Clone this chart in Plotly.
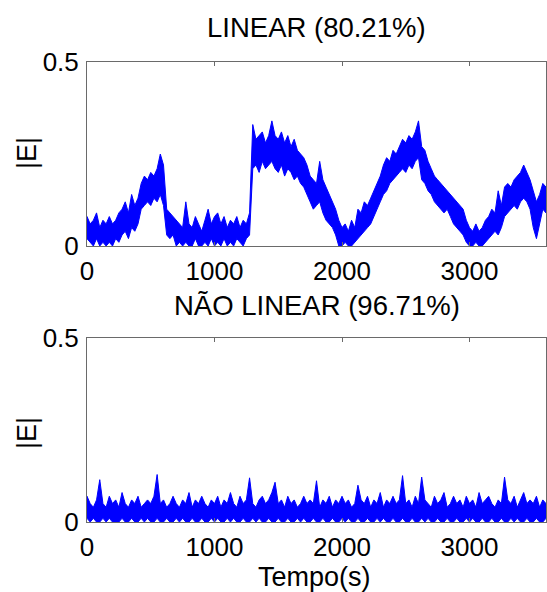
import plotly.graph_objects as go

# sample times (s), one low/high pair read per 25 s
step = 25
times = list(range(0, 3601, step))

# LINEAR |E| band: lower and upper envelope
lin_low = [
    .02, .01, .00, .02, .00, .01, .00, .01, .00, .02,   # 0-225
    .01, .03, .04, .02, .05, .04, .06, .10, .11, .12,   # 250-475
    .11, .13, .12, .14, .11, .03, .02, .03, .00, .01,   # 500-725
    .00, .01, .00, .00, .02, .00, .00, .01, .00, .02,   # 750-975
    .00, .01, .00, .02, .00, .01, .00, .02, .01, .00,   # 1000-1225
    .02, .03, .21, .22, .20, .23, .21, .22, .23, .21,   # 1250-1475
    .20, .22, .19, .21, .20, .18, .19, .17, .16, .14,   # 1500-1725
    .12, .10, .11, .12, .09, .07, .06, .05, .03, .00,   # 1750-1975
    .00, .01, .00, .00, .01, .02, .03, .04, .05, .06,   # 2000-2225
    .08, .10, .12, .14, .15, .17, .18, .19, .20, .21,   # 2250-2475
    .20, .22, .21, .23, .24, .18, .17, .15, .14, .12,   # 2500-2725
    .11, .10, .09, .10, .08, .06, .05, .04, .03, .01,   # 2750-2975
    .00, .00, .01, .00, .00, .01, .02, .03, .04, .03,   # 3000-3225
    .05, .08, .09, .10, .11, .10, .12, .13, .12, .10,   # 3250-3475
    .05, .02, .06, .10, .09,                            # 3500-3600
]
lin_high = [
    .08, .06, .07, .09, .05, .07, .06, .08, .06, .07,
    .09, .10, .12, .09, .14, .11, .13, .17, .19, .18,
    .20, .19, .21, .25, .22, .10, .09, .08, .07, .06,
    .05, .12, .06, .05, .08, .06, .04, .07, .10, .06,
    .08, .09, .06, .08, .05, .07, .06, .08, .05, .07,
    .06, .09, .33, .29, .30, .31, .28, .30, .34, .30,
    .29, .31, .28, .30, .27, .29, .26, .25, .24, .22,
    .19, .18, .17, .23, .18, .16, .14, .12, .10, .07,
    .05, .06, .04, .07, .05, .10, .09, .12, .11, .13,
    .15, .17, .19, .22, .24, .23, .26, .25, .27, .29,
    .28, .30, .29, .31, .34, .27, .26, .23, .21, .19,
    .18, .17, .16, .15, .14, .13, .12, .11, .10, .07,
    .05, .04, .06, .04, .05, .07, .08, .10, .09, .15,
    .11, .16, .17, .16, .18, .19, .20, .22, .20, .18,
    .15, .12, .14, .17, .16,
]

# NÃO LINEAR |E| band
nl_low = [
    .01, .00, .01, .00, .00, .01, .00, .01, .00, .00,
    .00, .01, .00, .00, .01, .00, .00, .01, .00, .01,
    .00, .00, .01, .00, .00, .01, .00, .00, .01, .00,
    .01, .00, .00, .01, .00, .00, .01, .00, .00, .01,
    .00, .01, .00, .00, .01, .00, .01, .00, .00, .01,
    .00, .00, .01, .00, .01, .00, .00, .01, .00, .00,
    .01, .00, .00, .01, .00, .00, .01, .00, .01, .00,
    .00, .01, .00, .00, .01, .00, .00, .01, .00, .00,
    .01, .00, .01, .00, .00, .01, .00, .00, .01, .00,
    .00, .01, .00, .01, .00, .00, .01, .00, .00, .01,
    .00, .00, .01, .00, .00, .01, .00, .01, .00, .00,
    .01, .00, .00, .01, .00, .00, .01, .00, .00, .01,
    .00, .01, .00, .00, .01, .00, .00, .01, .00, .00,
    .01, .00, .00, .01, .00, .01, .00, .00, .01, .00,
    .00, .01, .00, .00, .01,
]
nl_high = [
    .07, .05, .04, .06, .115, .05, .04, .07, .05, .06,
    .04, .08, .05, .04, .06, .05, .07, .04, .05, .06,
    .05, .07, .129, .05, .06, .04, .05, .07, .05, .04,
    .06, .05, .08, .04, .06, .05, .07, .05, .04, .06,
    .05, .07, .04, .06, .05, .08, .05, .04, .07, .05,
    .06, .12, .05, .04, .06, .07, .05, .06, .08, .108,
    .05, .06, .04, .07, .05, .06, .04, .05, .07, .05,
    .06, .05, .112, .04, .06, .05, .07, .04, .06, .05,
    .07, .05, .06, .04, .05, .10, .06, .05, .07, .04,
    .06, .05, .08, .04, .06, .05, .07, .05, .06, .126,
    .05, .06, .04, .07, .05, .122, .06, .05, .04, .07,
    .05, .06, .08, .04, .05, .07, .05, .06, .04, .07,
    .05, .06, .04, .08, .05, .06, .07, .05, .04, .06,
    .05, .122, .06, .05, .07, .04, .06, .08, .05, .06,
    .05, .07, .04, .06, .05,
]

titles = ["LINEAR (80.21%)", "NÃO LINEAR (96.71%)"]
ylabel = "|E|"
xlabel = "Tempo(s)"
xticks = [0, 1000, 2000, 3000]
yticks = [0, 0.5]
ytick_text = ["0", "0.5"]


def band(t, lo, hi):
    # closed polygon: upper envelope left->right, lower envelope right->left
    xs = list(t) + list(t)[::-1] + [t[0]]
    ys = list(hi) + list(lo)[::-1] + [hi[0]]
    return xs, ys


W, H = 547, 592
L, R, T, B = 87, 1, 62, 70
pw = W - L - R
ph = H - T - B


def px(x):
    return (x - L) / pw


def py(y):
    return (H - B - y) / ph


FONT = "Liberation Sans, Arial, Helvetica, sans-serif"
BLUE = "#0000FF"

fig = go.Figure()
for (lo, hi), (xa, ya) in (((lin_low, lin_high), ("x", "y")), ((nl_low, nl_high), ("x2", "y2"))):
    bx, by = band(times, lo, hi)
    fig.add_trace(go.Scatter(x=bx, y=by, mode="lines", fill="toself", fillcolor=BLUE,
                             line=dict(color=BLUE, width=1), xaxis=xa, yaxis=ya,
                             showlegend=False, hoverinfo="skip"))

axcol = "#6a6a6a"
xcommon = dict(range=[0, 3600], tickvals=xticks, ticks="inside", ticklen=4, tickcolor=axcol,
               showline=True, linecolor=axcol, linewidth=1, mirror="ticks", showgrid=False,
               zeroline=False, tickfont=dict(family=FONT, size=26, color="black"),
               ticklabelstandoff=2)
ycommon = dict(range=[0, 0.5], tickvals=yticks, ticktext=ytick_text, ticks="",
               showline=True, linecolor=axcol, linewidth=1, mirror=True, showgrid=False,
               zeroline=False, tickfont=dict(family=FONT, size=26, color="black"),
               ticklabelstandoff=2)

top_lo = py(246)
bot_hi = py(338)
fig.update_layout(
    width=W, height=H,
    margin=dict(l=L, r=R, t=T, b=B),
    paper_bgcolor="white", plot_bgcolor="white",
    xaxis=dict(**xcommon, domain=[0, 1], anchor="y"),
    yaxis=dict(**ycommon, domain=[top_lo, 1], anchor="x"),
    xaxis2=dict(**xcommon, domain=[0, 1], anchor="y2"),
    yaxis2=dict(**ycommon, domain=[0, bot_hi], anchor="x2"),
    showlegend=False,
)

ann = []
ann.append(dict(text=titles[0], x=px(316.5), y=py(27), xref="paper", yref="paper",
                showarrow=False, xanchor="center", yanchor="middle",
                font=dict(family=FONT, size=27.5, color="black")))
ann.append(dict(text=titles[1], x=px(316.5), y=py(305), xref="paper", yref="paper",
                showarrow=False, xanchor="center", yanchor="middle",
                font=dict(family=FONT, size=27.5, color="black")))
ann.append(dict(text=xlabel, x=px(314), y=py(577), xref="paper", yref="paper",
                showarrow=False, xanchor="center", yanchor="middle",
                font=dict(family=FONT, size=27, color="black")))
for yc in (153, 433):
    ann.append(dict(text=ylabel, x=px(27), y=py(yc), xref="paper", yref="paper",
                    showarrow=False, xanchor="center", yanchor="middle", textangle=-90,
                    font=dict(family=FONT, size=27, color="black")))
fig.update_layout(annotations=ann)

fig.write_html("out.html", config={"displayModeBar": False})
